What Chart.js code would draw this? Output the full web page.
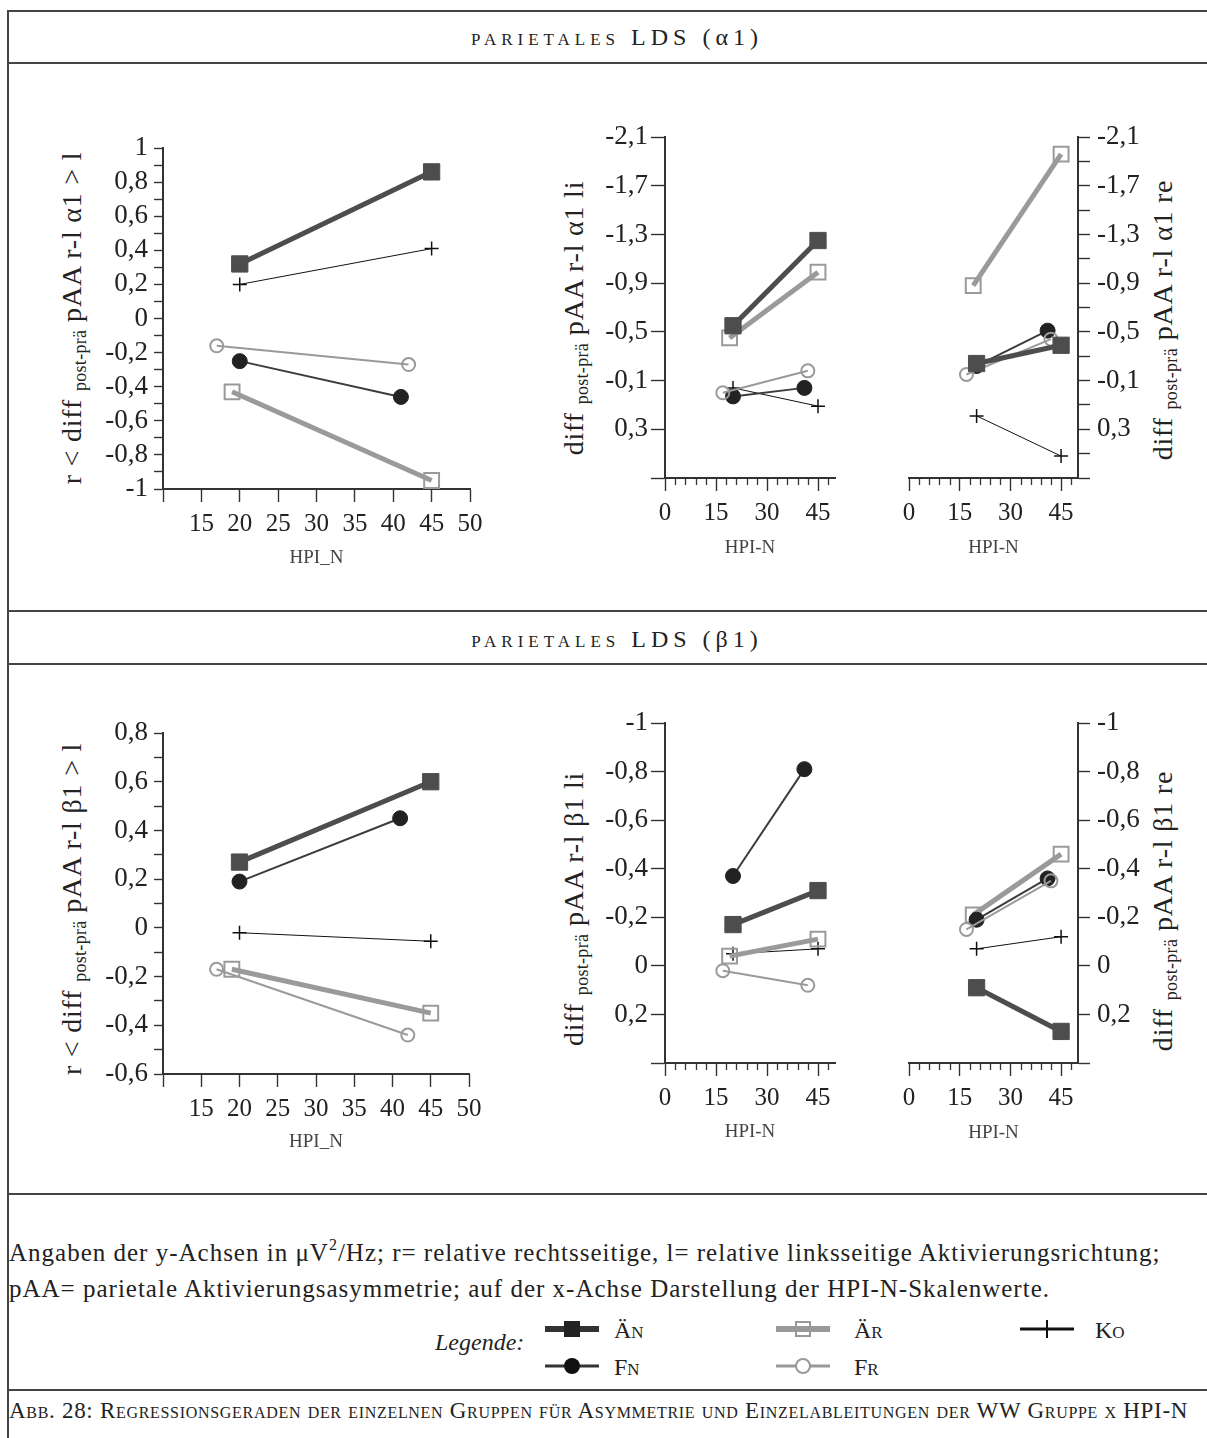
<!DOCTYPE html>
<html>
<head>
<meta charset="utf-8">
<script src="https://cdn.jsdelivr.net/npm/chart.js@4.4.0/dist/chart.umd.min.js"></script>
<style>
  body { margin: 0; background: #fff; width: 1207px; height: 1438px; position: relative; overflow: hidden;
         font-family: 'Liberation Serif', serif; color: #222; }
  canvas { position: absolute; }
  .hline { position: absolute; left: 7px; width: 1200px; border-top: 2px solid #444; }
  .vline { position: absolute; left: 7px; top: 10px; height: 1428px; border-left: 2px solid #444; }
  .head { position: absolute; left: 7px; width: 1200px; text-align: center; font-size: 24px;
          letter-spacing: 5px; line-height: 1; padding-left: 10px; }
  .sc { font-variant: small-caps; }
  .ytitle { position: absolute; white-space: nowrap; font-size: 28px; line-height: 1; letter-spacing: 0.8px;
            transform: translate(-50%, -50%) rotate(-90deg); }
  .ytitle sub { font-size: 18px; vertical-align: -0.3em; line-height: 0; letter-spacing: 0.3px; }
  .txt { position: absolute; white-space: nowrap; line-height: 1; }
  .leg { position: absolute; font-size: 24px; font-variant: small-caps; line-height: 1; }
  svg { position: absolute; overflow: visible; }
</style>
</head>
<body>

<div class="vline"></div>
<div class="hline" style="top:10px"></div>
<div class="hline" style="top:62px"></div>
<div class="hline" style="top:610px"></div>
<div class="hline" style="top:663px"></div>
<div class="hline" style="top:1193px"></div>
<div class="hline" style="top:1389px"></div>

<div class="head" style="top:25px"><span class="sc">parietales</span> LDS (α1)</div>
<div class="head" style="top:627px"><span class="sc">parietales</span> LDS (β1)</div>

<div class="ytitle" style="left:72px;top:318px">r &lt; diff <sub>post-prä</sub> pAA r-l α1 &gt; l</div>
<div class="ytitle" style="left:574px;top:318px">diff <sub>post-prä</sub> pAA r-l α1 li</div>
<div class="ytitle" style="left:1163px;top:320px">diff <sub>post-prä</sub> pAA r-l α1 re</div>
<div class="ytitle" style="left:72px;top:909px">r &lt; diff <sub>post-prä</sub> pAA r-l β1 &gt; l</div>
<div class="ytitle" style="left:574px;top:909px">diff <sub>post-prä</sub> pAA r-l β1 li</div>
<div class="ytitle" style="left:1163px;top:911px">diff <sub>post-prä</sub> pAA r-l β1 re</div>

<canvas id="c1" width="430" height="470" style="left:90px;top:110px"></canvas>
<canvas id="c2" width="265" height="460" style="left:595px;top:110px"></canvas>
<canvas id="c3" width="285" height="460" style="left:880px;top:110px"></canvas>
<canvas id="c4" width="430" height="470" style="left:90px;top:695px"></canvas>
<canvas id="c5" width="265" height="460" style="left:595px;top:695px"></canvas>
<canvas id="c6" width="285" height="460" style="left:880px;top:695px"></canvas>

<div class="txt" style="left:9px;top:1240px;font-size:25px;letter-spacing:1px">Angaben der y-Achsen in μV<sup style="font-size:16px;vertical-align:0.7em;line-height:0">2</sup>/Hz; r= relative rechtsseitige, l= relative linksseitige Aktivierungsrichtung;</div>
<div class="txt" style="left:9px;top:1276px;font-size:25px;letter-spacing:1px">pAA= parietale Aktivierungsasymmetrie; auf der x-Achse Darstellung der HPI-N-Skalenwerte.</div>

<div class="txt" style="left:435px;top:1330px;font-size:24px;font-style:italic">Legende:</div>

<!-- legend samples -->
<svg style="left:545px;top:1319px" width="54" height="20"><line x1="0" y1="10" x2="54" y2="10" stroke="#333" stroke-width="6"/><rect x="19" y="2" width="16" height="16" fill="#222"/></svg>
<svg style="left:545px;top:1356px" width="54" height="20"><line x1="0" y1="10" x2="54" y2="10" stroke="#333" stroke-width="3"/><circle cx="27" cy="10" r="8" fill="#111"/></svg>
<svg style="left:776px;top:1319px" width="54" height="20"><line x1="0" y1="10" x2="54" y2="10" stroke="#999" stroke-width="6"/><rect x="20" y="3" width="14" height="14" fill="none" stroke="#999" stroke-width="2"/></svg>
<svg style="left:776px;top:1356px" width="54" height="20"><line x1="0" y1="10" x2="54" y2="10" stroke="#999" stroke-width="3"/><circle cx="27" cy="10" r="7" fill="#fff" stroke="#999" stroke-width="2"/></svg>
<svg style="left:1020px;top:1319px" width="54" height="20"><line x1="0" y1="10" x2="54" y2="10" stroke="#111" stroke-width="3"/><line x1="27" y1="1" x2="27" y2="19" stroke="#111" stroke-width="2"/></svg>

<div class="leg" style="left:614px;top:1318px">Än</div>
<div class="leg" style="left:614px;top:1355px">Fn</div>
<div class="leg" style="left:854px;top:1318px">Är</div>
<div class="leg" style="left:854px;top:1355px">Fr</div>
<div class="leg" style="left:1095px;top:1318px">Ko</div>

<div class="txt sc" style="left:9px;top:1399px;font-size:23px;letter-spacing:0.7px">Abb. 28: Regressionsgeraden der einzelnen Gruppen für Asymmetrie und Einzelableitungen der WW Gruppe x HPI-N</div>

<script>
// groups in drawing order (first one is drawn on top)
const groups = ['ÄN', 'FR', 'FN', 'ÄR', 'Ko'];

// HPI-N position of the two ends of each regression line, per group
const xEnds = [[20, 45], [17, 42], [20, 41], [19, 45], [20, 45]];

// diff post-prä values at both ends, per group (same order as groups)
const alphaAsym = [[0.32, 0.86], [-0.16, -0.27], [-0.25, -0.46], [-0.43, -0.95], [0.20, 0.41]];
const alphaLi   = [[-0.55, -1.25], [0.00, -0.18], [0.03, -0.04], [-0.45, -0.99], [-0.04, 0.11]];
const alphaRe   = [[-0.24, -0.39], [-0.15, -0.44], [-0.22, -0.51], [-0.88, -1.96], [0.19, 0.52]];
const betaAsym  = [[0.27, 0.60], [-0.17, -0.44], [0.19, 0.45], [-0.17, -0.35], [-0.02, -0.055]];
const betaLi    = [[-0.17, -0.31], [0.02, 0.08], [-0.37, -0.81], [-0.04, -0.11], [-0.05, -0.07]];
const betaRe    = [[0.09, 0.27], [-0.15, -0.35], [-0.19, -0.36], [-0.21, -0.46], [-0.07, -0.12]];

// tick values and labelled ticks
const xAsymTicks  = [10, 15, 20, 25, 30, 35, 40, 45, 50];
const xAsymLabels = [15, 20, 25, 30, 35, 40, 45, 50];
const xHpiTicks   = [0, 15, 30, 45];
const xHpiMinor   = [3, 6, 9, 12, 18, 21, 24, 27, 33, 36, 39, 42, 48];

const yAsymA       = [-1, -0.9, -0.8, -0.7, -0.6, -0.5, -0.4, -0.3, -0.2, -0.1, 0, 0.1, 0.2, 0.3, 0.4, 0.5, 0.6, 0.7, 0.8, 0.9, 1];
const yAsymALabels = [-1, -0.8, -0.6, -0.4, -0.2, 0, 0.2, 0.4, 0.6, 0.8, 1];
const yLiA         = [-2.1, -1.7, -1.3, -0.9, -0.5, -0.1, 0.3, 0.7];
const yReA         = [-2.1, -1.9, -1.7, -1.5, -1.3, -1.1, -0.9, -0.7, -0.5, -0.3, -0.1, 0.1, 0.3, 0.5, 0.7];
const yALabels     = [-2.1, -1.7, -1.3, -0.9, -0.5, -0.1, 0.3];
const yAsymB       = [-0.6, -0.5, -0.4, -0.3, -0.2, -0.1, 0, 0.1, 0.2, 0.3, 0.4, 0.5, 0.6, 0.7, 0.8];
const yAsymBLabels = [-0.6, -0.4, -0.2, 0, 0.2, 0.4, 0.6, 0.8];
const yB           = [-1, -0.8, -0.6, -0.4, -0.2, 0, 0.2, 0.4];
const yBLabels     = [-1, -0.8, -0.6, -0.4, -0.2, 0, 0.2];

const styles = {
  'ÄN': {borderColor: '#4d4d4d', borderWidth: 5, pointStyle: 'rect', pointRadius: 11.5,
         pointBackgroundColor: '#4d4d4d', pointBorderColor: '#4d4d4d', pointBorderWidth: 1},
  'ÄR': {borderColor: '#9a9a9a', borderWidth: 5, pointStyle: 'rect', pointRadius: 10.5,
         pointBackgroundColor: 'rgba(255,255,255,0)', pointBorderColor: '#9a9a9a', pointBorderWidth: 2},
  'FN': {borderColor: '#3c3c3c', borderWidth: 2, pointStyle: 'circle', pointRadius: 7.5,
         pointBackgroundColor: '#222', pointBorderColor: '#222', pointBorderWidth: 1},
  'FR': {borderColor: '#9a9a9a', borderWidth: 2, pointStyle: 'circle', pointRadius: 6.5,
         pointBackgroundColor: 'rgba(255,255,255,0)', pointBorderColor: '#9a9a9a', pointBorderWidth: 2},
  'Ko': {borderColor: '#111', borderWidth: 1, pointStyle: 'cross', pointRadius: 7,
         pointBackgroundColor: '#111', pointBorderColor: '#111', pointBorderWidth: 1.5}
};

Chart.defaults.font.family = "'Liberation Serif', serif";
Chart.defaults.color = '#222';

function fmt(v) {
  return String(Math.round(v * 100) / 100).replace('.', ',');
}
function has(list, v) {
  return list.some(l => Math.abs(l - v) < 1e-6);
}

// short unlabelled ticks under the x axis
const minorTicks = {
  id: 'minorTicks',
  afterDraw(chart, args, opts) {
    if (!opts.values || !opts.values.length) return;
    const ctx = chart.ctx;
    const sx = chart.scales.x;
    const y0 = chart.chartArea.bottom;
    ctx.save();
    ctx.strokeStyle = '#333';
    ctx.lineWidth = 1.3;
    opts.values.forEach(v => {
      const px = Math.round(sx.getPixelForValue(v)) + 0.5;
      ctx.beginPath();
      ctx.moveTo(px, y0);
      ctx.lineTo(px, y0 + opts.len);
      ctx.stroke();
    });
    ctx.restore();
  }
};

function panel(id, values, p) {
  const cv = document.getElementById(id);
  const cx = parseFloat(cv.style.left), cy = parseFloat(cv.style.top);
  const cw = cv.width, ch = cv.height;
  const a = p.area;
  const right = p.side === 'right';
  const yW = right ? cx + cw - a.r : a.l - cx;
  const xH = cy + ch - a.b;
  const titleLH = 19 * 1.2;

  const datasets = groups.map((g, i) => Object.assign({
    label: g,
    data: xEnds[i].map((x, k) => ({x: x, y: values[i][k]})),
    clip: false,
    fill: false,
    tension: 0
  }, styles[g]));

  new Chart(cv.getContext('2d'), {
    type: 'line',
    data: {datasets: datasets},
    plugins: [minorTicks],
    options: {
      responsive: false,
      animation: false,
      layout: {
        autoPadding: false,
        padding: {
          left: right ? a.l - cx : 0,
          right: right ? 0 : cx + cw - a.r,
          top: a.t - cy,
          bottom: 0
        }
      },
      plugins: {
        legend: {display: false},
        tooltip: {enabled: false},
        minorTicks: {values: p.xMinor, len: 7}
      },
      scales: {
        x: {
          type: 'linear',
          min: p.xMin, max: 50,
          afterBuildTicks: s => { s.ticks = p.xTicks.map(v => ({value: v})); },
          afterFit: s => { s.height = xH; },
          grid: {drawOnChartArea: false, tickLength: 13, tickWidth: 1.4, tickColor: '#333'},
          border: {color: '#333', width: 2},
          ticks: {
            font: {size: 25}, color: '#222', padding: 7, autoSkip: false, maxRotation: 0,
            callback: v => has(p.xLabels, v) ? String(v) : ''
          },
          title: {
            display: true, text: p.xTitle, color: '#444', font: {size: 19},
            padding: {top: 0, bottom: cy + ch - p.titleY - titleLH / 2}
          }
        },
        y: {
          type: 'linear',
          position: p.side,
          reverse: !!p.reverse,
          min: p.yMin, max: p.yMax,
          afterBuildTicks: s => { s.ticks = p.yTicks.map(v => ({value: v})); },
          afterFit: s => { s.width = yW; },
          grid: {drawOnChartArea: false, tickLength: p.yTickLen, tickWidth: 1.4, tickColor: '#333'},
          border: {color: '#333', width: 2},
          ticks: {
            font: {size: 27}, color: '#222', padding: p.yPad, autoSkip: false,
            callback: v => has(p.yLabels, v) ? fmt(v) : ''
          }
        }
      }
    }
  });
}

const asymX = {xMin: 10, xTicks: xAsymTicks, xLabels: xAsymLabels, xMinor: [], xTitle: 'HPI_N', side: 'left', yTickLen: 9, yPad: 6};
const hpiX  = {xMin: 0, xTicks: xHpiTicks, xLabels: xHpiTicks, xMinor: xHpiMinor, xTitle: 'HPI-N'};

panel('c1', alphaAsym, Object.assign({}, asymX, {
  area: {l: 163, t: 148, r: 470, b: 489}, titleY: 558,
  yMin: -1, yMax: 1, yTicks: yAsymA, yLabels: yAsymALabels}));

panel('c2', alphaLi, Object.assign({}, hpiX, {
  area: {l: 665, t: 137, r: 835, b: 478}, titleY: 548, side: 'left', reverse: true,
  yMin: -2.1, yMax: 0.7, yTicks: yLiA, yLabels: yALabels, yTickLen: 14, yPad: 3}));

panel('c3', alphaRe, Object.assign({}, hpiX, {
  area: {l: 909, t: 137, r: 1078, b: 478}, titleY: 548, side: 'right', reverse: true,
  yMin: -2.1, yMax: 0.7, yTicks: yReA, yLabels: yALabels, yTickLen: 12, yPad: 7}));

panel('c4', betaAsym, Object.assign({}, asymX, {
  area: {l: 163, t: 733, r: 469, b: 1074}, titleY: 1142,
  yMin: -0.6, yMax: 0.8, yTicks: yAsymB, yLabels: yAsymBLabels}));

panel('c5', betaLi, Object.assign({}, hpiX, {
  area: {l: 665, t: 723, r: 835, b: 1063}, titleY: 1132, side: 'left', reverse: true,
  yMin: -1, yMax: 0.4, yTicks: yB, yLabels: yBLabels, yTickLen: 14, yPad: 3}));

panel('c6', betaRe, Object.assign({}, hpiX, {
  area: {l: 909, t: 723, r: 1078, b: 1063}, titleY: 1133, side: 'right', reverse: true,
  yMin: -1, yMax: 0.4, yTicks: yB, yLabels: yBLabels, yTickLen: 12, yPad: 7}));
</script>
</body>
</html>
